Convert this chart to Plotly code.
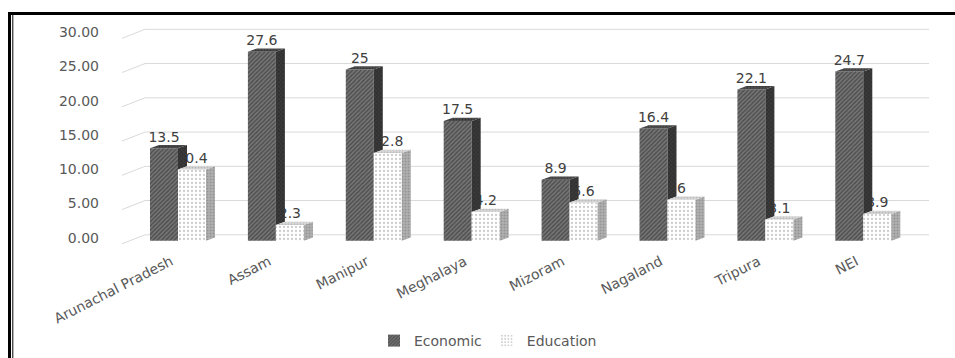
import plotly.graph_objects as go

# ---------------- data ----------------
categories = ["Arunachal Pradesh", "Assam", "Manipur", "Meghalaya",
              "Mizoram", "Nagaland", "Tripura", "NEI"]
economic = [13.5, 27.6, 25, 17.5, 8.9, 16.4, 22.1, 24.7]
education = [10.4, 2.3, 12.8, 4.2, 5.6, 6, 3.1, 3.9]
economic_labels = ["13.5", "27.6", "25", "17.5", "8.9", "16.4", "22.1", "24.7"]
education_labels = ["10.4", "2.3", "12.8", "4.2", "5.6", "6", "3.1", "3.9"]
y_ticks = [0, 5, 10, 15, 20, 25, 30]
y_ticktext = ["0.00", "5.00", "10.00", "15.00", "20.00", "25.00", "30.00"]

# ---------------- layout geometry (pixels) ----------------
W, H = 955, 358
ML, MR, MT, MB = 122, 26, 25, 108
PW, PH = W - ML - MR, H - MT - MB
PX_CAT = 97.9      # pixels per category
PX_VAL = 6.85      # pixels per value unit
CAT0_PX = 178      # pixel of first category boundary
ZERO_PX = 240.8    # pixel of value 0 (bar plane)

x_range = [(ML - CAT0_PX) / PX_CAT, (ML + PW - CAT0_PX) / PX_CAT]
y_range = [-(MT + PH - ZERO_PX) / PX_VAL, (ZERO_PX - MT) / PX_VAL]

BW = 28 / PX_CAT          # bar front width
DXB = 9 / PX_CAT          # bar depth (x)
DYB = 3.3 / PX_VAL        # bar depth (y)
FRONT_DY = 3 / PX_VAL     # front plane below bar plane
BACK_DY = 6 / PX_VAL      # back wall above bar plane
WALL_X = (145 - CAT0_PX) / PX_CAT
TICK_SHIFT = 7 / PX_CAT   # category labels sit slightly left of boundary

ECON_BG, ECON_FG = "#767676", "#222222"
ECON_SIDE_BG, ECON_SIDE_FG = "#3a3a3a", "#1a1a1a"
ECON_TOP_BG, ECON_TOP_FG = "#4e4e4e", "#1e1e1e"
EDU_BG, EDU_FG = "#ffffff", "#9a9a9a"
EDU_SIDE_BG, EDU_SIDE_FG = "#b0b0b0", "#787878"
EDU_TOP_BG, EDU_TOP_FG = "#d8d8d8", "#9a9a9a"
TXT = "#595959"
LBL = "#404040"
FONT = "DejaVu Sans"

xs = list(range(len(categories)))

fig = go.Figure()

# front faces (bars)
fig.add_trace(go.Bar(
    x=xs, y=economic, name="Economic", offset=-BW, width=BW,
    marker=dict(color=ECON_BG, line=dict(width=0),
                pattern=dict(shape="/", fgcolor=ECON_FG, bgcolor=ECON_BG,
                             size=3, solidity=0.45)),
    hoverinfo="skip"))
fig.add_trace(go.Bar(
    x=xs, y=education, name="Education", offset=0, width=BW,
    marker=dict(color=EDU_BG, line=dict(width=0),
                pattern=dict(shape=".", fgcolor=EDU_FG, bgcolor=EDU_BG,
                             size=4, solidity=0.25)),
    hoverinfo="skip"))


def poly_trace(polys, bg, fg, shape, solidity):
    px, py = [], []
    for p in polys:
        for (a, b) in p:
            px.append(a)
            py.append(b)
        px.append(p[0][0])
        py.append(p[0][1])
        px.append(None)
        py.append(None)
    return go.Scatter(x=px, y=py, mode="lines", fill="toself",
                      line=dict(width=0, color=bg), fillcolor=bg,
                      fillpattern=dict(shape=shape, fgcolor=fg, bgcolor=bg,
                                       size=3, solidity=solidity),
                      showlegend=False, hoverinfo="skip")


# education labels (drawn first so economic side faces cover them)
fig.add_trace(go.Scatter(
    x=[i + BW / 2 for i in xs], y=[v + DYB for v in education],
    text=education_labels, mode="text", textposition="top center",
    textfont=dict(family=FONT, size=14, color=LBL),
    showlegend=False, hoverinfo="skip", cliponaxis=False))

econ_top = [[(i - BW, e), (i, e), (i + DXB, e + DYB), (i - BW + DXB, e + DYB)]
            for i, e in zip(xs, economic)]
econ_side = [[(i, min(d, e)), (i, e), (i + DXB, e + DYB), (i + DXB, min(d, e) + DYB)]
             for i, e, d in zip(xs, economic, education)]
edu_top = [[(i, d), (i + BW, d), (i + BW + DXB, d + DYB), (i + DXB, d + DYB)]
           for i, d in zip(xs, education)]
edu_side = [[(i + BW, 0), (i + BW, d), (i + BW + DXB, d + DYB), (i + BW + DXB, DYB)]
            for i, d in zip(xs, education)]

fig.add_trace(poly_trace(econ_side, ECON_SIDE_BG, ECON_SIDE_FG, "x", 0.4))
fig.add_trace(poly_trace(econ_top, ECON_TOP_BG, ECON_TOP_FG, ".", 0.4))
fig.add_trace(poly_trace(edu_side, EDU_SIDE_BG, EDU_SIDE_FG, ".", 0.35))
fig.add_trace(poly_trace(edu_top, EDU_TOP_BG, EDU_TOP_FG, ".", 0.3))

# economic labels
fig.add_trace(go.Scatter(
    x=[i - BW / 2 for i in xs], y=[v + DYB for v in economic],
    text=economic_labels, mode="text", textposition="top center",
    textfont=dict(family=FONT, size=14, color=LBL),
    showlegend=False, hoverinfo="skip", cliponaxis=False))

# back-wall gridlines with 3D slant (decoration)
shapes = []
for v in y_ticks:
    shapes.append(dict(
        type="path", xref="x", yref="y", layer="below",
        path=f"M {x_range[0]},{v - FRONT_DY} L {WALL_X},{v + BACK_DY} L {x_range[1]},{v + BACK_DY}",
        line=dict(color="#d9d9d9", width=1)))


def px2px(x):
    return (x - ML) / PW


def py2py(y):
    return (MT + PH - y) / PH


# frame
shapes.append(dict(type="line", xref="paper", yref="paper",
                   x0=px2px(8), x1=px2px(956), y0=py2py(13.5), y1=py2py(13.5),
                   line=dict(color="black", width=3)))
shapes.append(dict(type="line", xref="paper", yref="paper",
                   x0=px2px(9.5), x1=px2px(9.5), y0=py2py(12), y1=py2py(360),
                   line=dict(color="black", width=3)))
shapes.append(dict(type="line", xref="paper", yref="paper",
                   x0=px2px(12.8), x1=px2px(12.8), y0=py2py(15), y1=py2py(360),
                   line=dict(color="black", width=1)))

fig.update_layout(
    width=W, height=H,
    margin=dict(l=ML, r=MR, t=MT, b=MB, pad=0, autoexpand=False),
    paper_bgcolor="white", plot_bgcolor="white",
    barmode="overlay",
    showlegend=True,
    legend=dict(orientation="h", x=(488 - ML) / PW, xanchor="center",
                y=py2py(357), yanchor="bottom",
                font=dict(family=FONT, size=14, color=TXT),
                itemwidth=30, traceorder="normal", tracegroupgap=0),
    shapes=shapes,
    xaxis=dict(range=x_range, tickvals=[i - TICK_SHIFT for i in xs],
               ticktext=categories,
               tickangle=-27, showgrid=False, zeroline=False, showline=False,
               automargin=False,
               ticks="", tickfont=dict(family=FONT, size=14, color=TXT)),
    yaxis=dict(range=y_range, tickvals=y_ticks, ticktext=y_ticktext,
               showgrid=False, zeroline=False, showline=False, ticks="",
               automargin=False,
               ticklabelshift=-3, ticklabelstandoff=22,
               tickfont=dict(family=FONT, size=14, color=TXT)),
)

fig.write_html("out.html")
